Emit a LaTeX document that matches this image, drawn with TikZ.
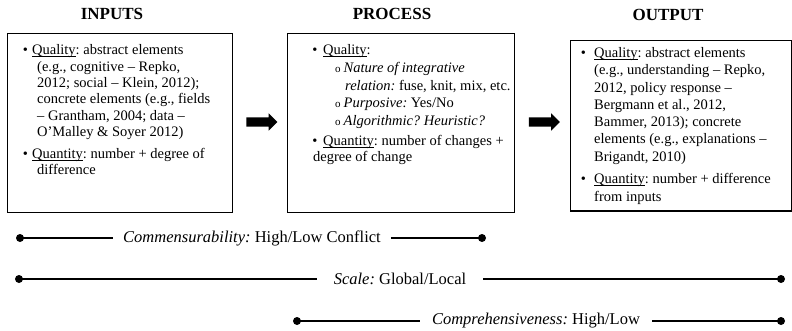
\documentclass[tikz,border=0pt]{standalone}
\usepackage{fontspec}
\setmainfont{Liberation Serif}
\usetikzlibrary{shapes.arrows}
\frenchspacing
\newcommand\myul[1]{{\setbox0\hbox{#1}\rlap{\rule[-1.6pt]{\wd0}{0.7pt}}#1}}
\newcommand\mytxt[4]{\node[txt] (#1) at (#2,#3) {#4};}
\tikzset{
 box/.style={draw=black, line width=1pt, inner sep=0},
 ttl/.style={font=\fontsize{17}{20}\selectfont\bfseries, anchor=base, inner sep=0},
 txt/.style={font=\fontsize{14.5}{16}\selectfont\frenchspacing, anchor=base west, inner sep=0},
 bul/.style={font=\fontsize{14.5}{16}\selectfont, anchor=base, inner sep=0},
 sub/.style={font=\fontsize{11}{13}\selectfont, anchor=base west, inner sep=0},
 blockarrow/.style={single arrow, fill=black, draw=none, minimum height=31pt, minimum width=0pt, inner xsep=0pt, inner ysep=4.5pt, single arrow head extend=4pt, single arrow head indent=0pt, single arrow tip angle=90},
 bar/.style={line width=2.8pt},
 dot/.style={circle, fill=black, inner sep=0, minimum size=8pt},
 bt/.style={font=\fontsize{16.5}{20}\selectfont\frenchspacing, inner ysep=0},
}
\begin{document}
\begin{tikzpicture}[x=1pt,y=-1pt]
\useasboundingbox (0,0) rectangle (792,331);
% boxes
\node[box, minimum width=225pt, minimum height=178pt] (inbox) at (119.5,123) {};
\node[box, minimum width=227pt, minimum height=178pt] (procbox) at (400.5,123) {};
\node[box, minimum width=221pt, minimum height=170pt] (outbox) at (680.5,126) {};
% titles
\node[ttl] (tin) at (112,20) {INPUTS};
\node[ttl] (tproc) at (392,20) {PROCESS};
\node[ttl] (tout) at (668,21) {OUTPUT};
% arrows
\node[blockarrow] (a1) at (259.5,122) {};
\node[blockarrow] (a2) at (542,122) {};
% inputs
\node[bul] (ib1) at (25.5,55) {•};
\mytxt{i1}{32}{55}{\myul{Quality}: abstract elements}
\mytxt{i2}{37}{71.5}{(e.g., cognitive – Repko,}
\mytxt{i3}{37}{88}{2012; social – Klein, 2012);}
\mytxt{i4}{37}{104}{concrete elements (e.g., fields}
\mytxt{i5}{37}{121}{– Grantham, 2004; data –}
\mytxt{i6}{37}{137}{O’Malley \& Soyer 2012)}
\node[bul] (ib2) at (25.5,159) {•};
\mytxt{i7}{32}{159}{\myul{Quantity}: number + degree of}
\mytxt{i8}{37}{175}{difference}
% process
\node[bul] (pb1) at (315,55) {•};
\mytxt{p1}{323}{55}{\myul{Quality}:}
\node[sub] (ps1) at (335,73) {o};
\mytxt{p2}{343.5}{73}{\textit{Nature of integrative}}
\mytxt{p3}{345}{91}{\textit{relation:} fuse, knit, mix, etc.}
\node[sub] (ps2) at (335,108) {o};
\mytxt{p4}{343.5}{108}{\textit{Purposive:} Yes/No}
\node[sub] (ps3) at (335,126) {o};
\mytxt{p5}{343.5}{126}{\textit{Algorithmic? Heuristic?}}
\node[bul] (pb2) at (315,146) {•};
\mytxt{p6}{323}{146}{\myul{Quantity}: number of changes +}
\mytxt{p7}{313}{162}{degree of change}
% output
\node[bul] (ob1) at (583.5,58) {•};
\mytxt{o1}{594}{58}{\myul{Quality}: abstract elements}
\mytxt{o2}{594}{75}{(e.g., understanding – Repko,}
\mytxt{o3}{594}{92.5}{2012, policy response –}
\mytxt{o4}{594}{109.5}{Bergmann et al., 2012,}
\mytxt{o5}{594}{127}{Bammer, 2013); concrete}
\mytxt{o6}{594}{144}{elements (e.g., explanations –}
\mytxt{o7}{594}{161.5}{Brigandt, 2010)}
\node[bul] (ob2) at (583.5,184) {•};
\mytxt{o8}{594}{184}{\myul{Quantity}: number + difference}
\mytxt{o9}{594}{201}{from inputs}
% bottom scales
\coordinate (c1l) at (20,238); \coordinate (c1r) at (482,238);
\node[bt, inner xsep=10pt] (c1t) at (252,238) {\textit{Commensurability:} High/Low Conflict};
\draw[bar] (c1l) -- (c1t.west);
\draw[bar] (c1t.east) -- (c1r);
\node[dot] (d1l) at (c1l) {};
\node[dot] (d1r) at (c1r) {};
\coordinate (c2l) at (19,279); \coordinate (c2r) at (781,279);
\node[bt, inner xsep=17pt] (c2t) at (400,279) {\textit{Scale:} Global/Local};
\draw[bar] (c2l) -- (c2t.west);
\draw[bar] (c2t.east) -- (c2r);
\node[dot] (d2l) at (c2l) {};
\node[dot] (d2r) at (c2r) {};
\coordinate (c3l) at (297,321); \coordinate (c3r) at (781,321);
\node[bt, inner xsep=12pt] (c3t) at (536,321) {\textit{Comprehensiveness:} High/Low};
\draw[bar] (c3l) -- (c3t.west);
\draw[bar] (c3t.east) -- (c3r);
\node[dot] (d3l) at (c3l) {};
\node[dot] (d3r) at (c3r) {};
\end{tikzpicture}
\end{document}
